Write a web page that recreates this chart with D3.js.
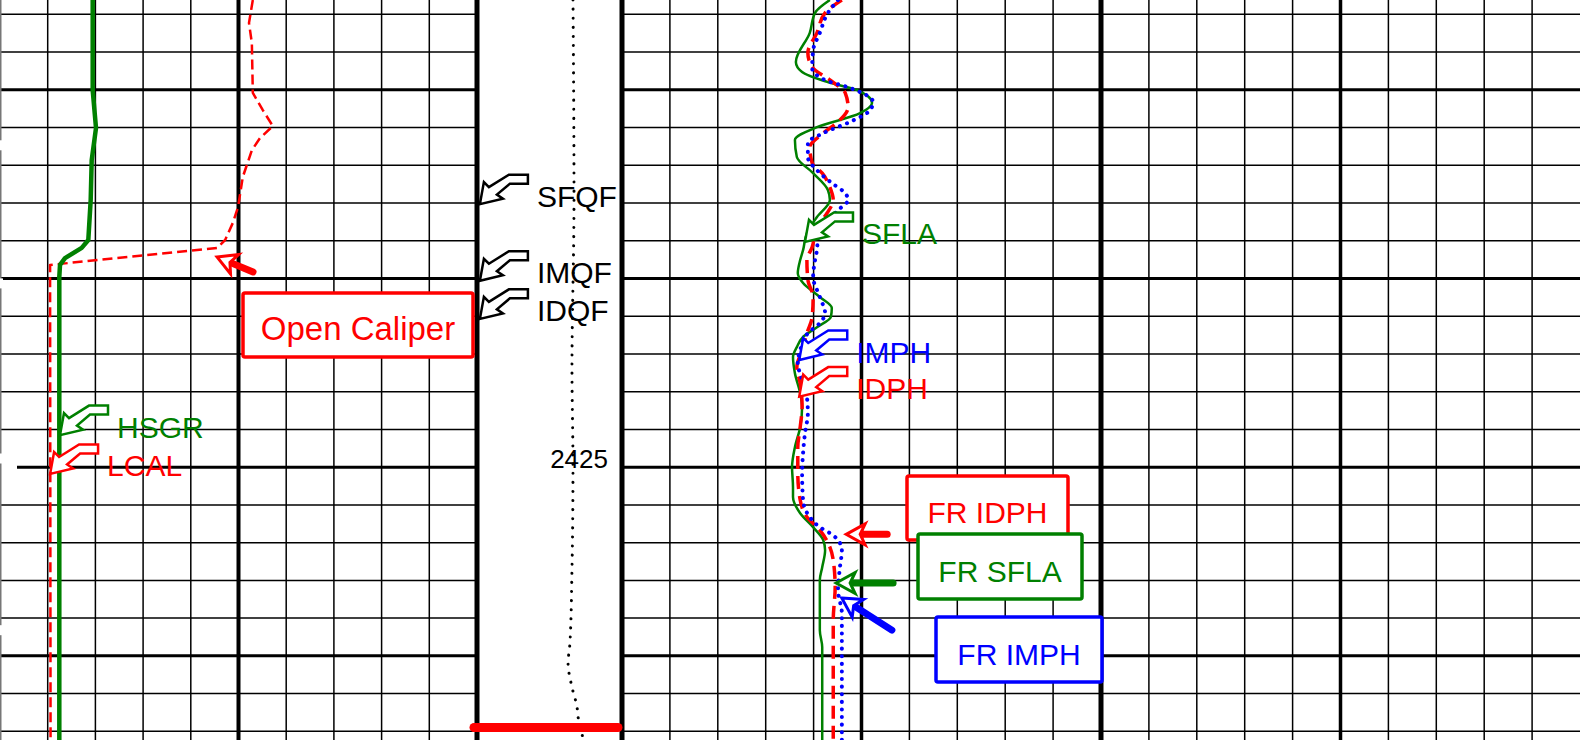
<!DOCTYPE html>
<html><head><meta charset="utf-8">
<script src="https://cdn.jsdelivr.net/npm/d3@7"></script>
<style>html,body{margin:0;padding:0;background:#fff;overflow:hidden}svg{display:block}</style>
</head><body><svg id="c" width="1580" height="740"></svg>
<script>
// ---------- data ----------
const depthTop = 2412.62, depthBottom = 2432.23;
const depthLabels = [2425];

const hsgrDepth = [2412.62,2415.01,2416.01,2416.86,2417.92,2418.98,2419.19,2419.46,2419.64,2419.96,2432.23];
const hsgrValue = [29.15,29.15,30.19,28.84,28.52,27.77,25.69,20.44,18.87,18.65,18.65];

const lcalDepth = [2412.62,2413.23,2413.76,2415.08,2415.54,2415.96,2416.28,2416.60,2417.31,2418.11,2418.53,2418.98,2419.19,2419.64,2419.96,2432.23];
const lcalValue = [11.30,11.22,11.28,11.30,11.51,11.72,11.45,11.28,11.09,10.99,10.88,10.72,10.55,7.05,7.05,7.06];

const dtDepth = [2412.62,2417.92,2422.43,2425.00,2427.73,2429.66,2430.19,2430.83,2431.36,2431.62,2432.05,2432.23];
const dtValue = [6.62,6.69,6.55,6.62,6.55,6.41,6.28,6.55,6.90,6.97,7.24,7.30];

const sflaDepth = [2412.62,2412.96,2413.49,2414.26,2414.53,2414.79,2415.01,2415.35,2415.62,2415.99,2416.33,2416.78,2417.21,2417.66,2417.92,2418.37,2418.80,2419.25,2419.51,2419.86,2420.12,2420.49,2420.78,2421.02,2421.29,2421.55,2421.82,2422.08,2422.51,2423.04,2423.41,2423.94,2424.47,2425.00,2425.53,2425.79,2426.22,2426.59,2426.93,2427.20,2427.65,2427.99,2429.32,2429.77,2432.23];
const sflaValue = [4.34,4.03,3.92,3.63,3.76,4.28,4.91,5.22,4.97,4.07,3.61,3.65,3.99,4.30,4.34,4.07,3.86,3.78,3.72,3.67,3.78,4.13,4.38,4.36,4.07,3.78,3.65,3.57,3.61,3.72,3.76,3.72,3.61,3.55,3.57,3.57,3.72,3.99,4.20,4.24,4.18,4.13,4.13,4.18,4.18];

const idphDepth = [2412.62,2412.96,2413.49,2414.02,2414.40,2414.74,2415.08,2415.46,2415.85,2416.15,2416.52,2416.94,2417.21,2417.58,2417.92,2418.27,2418.64,2419.17,2419.51,2420.04,2420.49,2421.02,2421.45,2421.90,2422.35,2422.77,2423.41,2423.94,2424.47,2425.16,2425.87,2426.32,2426.67,2427.12,2427.46,2428.18,2429.05,2432.23];
const idphValue = [4.59,4.24,4.07,3.88,3.97,4.34,4.66,4.72,4.51,4.20,3.92,3.97,4.18,4.34,4.41,4.28,4.07,3.97,3.86,3.88,3.99,3.97,3.86,3.76,3.65,3.72,3.76,3.72,3.67,3.67,3.72,3.86,4.13,4.34,4.41,4.45,4.41,4.41];

const imphDepth = [2412.62,2412.96,2413.49,2413.95,2414.42,2414.74,2414.95,2415.32,2415.54,2415.85,2416.15,2416.41,2416.78,2417.13,2417.47,2417.74,2417.92,2418.19,2418.53,2418.98,2419.25,2419.51,2419.96,2420.49,2420.92,2421.18,2421.45,2421.90,2422.24,2422.69,2423.14,2423.57,2424.10,2424.63,2425.16,2425.87,2426.32,2426.59,2426.75,2426.93,2427.20,2427.65,2428.26,2428.87,2432.23];
const imphValue = [4.51,4.30,4.13,3.99,3.97,4.24,4.76,5.24,5.18,4.76,4.20,3.88,3.88,4.07,4.38,4.66,4.72,4.51,4.28,4.09,4.07,4.03,3.99,4.13,4.24,4.13,3.88,3.72,3.67,3.76,3.86,3.88,3.82,3.78,3.76,3.78,3.92,4.13,4.34,4.51,4.59,4.55,4.51,4.59,4.59];

const markerDepths = [2431.9];
const edgeTickDepths = [2416.47, 2420.13, 2424.77, 2429.32];

const calloutNames  = ["HSGR","LCAL","SFQF","IMQF","IDQF","SFLA","IMPH","IDPH"];
const calloutDepths = [2424.15,2425.18,2418.03,2420.06,2421.07,2419.03,2422.16,2423.13];
const calloutValues = [18.87,7.05,0.2,0.2,0.2,3.82,3.70,3.70];

const boxLabels   = ["Open Caliper","FR IDPH","FR SFLA","FR IMPH"];
const arrowDepths = [2419.43,2426.78,2428.07,2428.47];
const arrowValues = [10.55,4.68,4.47,4.59];

// ---------- scales ----------
const W = 1580, H = 740;
const y    = d3.scaleLinear().domain([depthTop, depthBottom]).range([0, H]);
const xGR  = d3.scaleLinear().domain([0, 150]).range([0, 477]);
const xCAL = d3.scaleLinear().domain([6, 16]).range([0, 477]);
const xDT  = d3.scaleLinear().domain([0, 10]).range([477, 622]);
const xRES = d3.scaleLinear().domain([0, 20]).range([622, 1580]);

const RED = "#ff0000", GREEN = "#008000", BLUE = "#0000ff";
const FONT = "'Liberation Sans', Arial, Helvetica, sans-serif";

const svg = d3.select("#c");
svg.append("rect").attr("width", W).attr("height", H).attr("fill", "#fff");

// ---------- grid ----------
const grid = svg.append("g");
const depths = d3.range(Math.ceil(depthTop), Math.floor(depthBottom) + 1);
depths.forEach(d => {
  const w = d % 5 === 0 ? 3 : 1.5;
  const yy = y(d);
  const x0 = depthLabels.includes(d) ? 17 : 0;
  grid.append("line").attr("x1", x0).attr("x2", xGR(150)).attr("y1", yy).attr("y2", yy)
    .attr("stroke", "#000").attr("stroke-width", w);
  grid.append("line").attr("x1", xRES(0)).attr("x2", W).attr("y1", yy).attr("y2", yy)
    .attr("stroke", "#000").attr("stroke-width", w);
});
d3.range(0, 151, 15).forEach(v => {
  const w = v === 150 ? 5 : v === 75 ? 4 : 1.5;
  const xx = v === 0 ? 0.75 : xGR(v);
  grid.append("line").attr("x1", xx).attr("x2", xx).attr("y1", 0).attr("y2", H)
    .attr("stroke", v === 0 ? "#777" : "#000").attr("stroke-width", w);
});
d3.range(0, 20, 1).forEach(v => {
  const w = (v === 0 || v === 10) ? 5 : (v === 5 || v === 15) ? 3.5 : 1.5;
  const xx = xRES(v);
  grid.append("line").attr("x1", xx).attr("x2", xx).attr("y1", 0).attr("y2", H)
    .attr("stroke", "#000").attr("stroke-width", w);
});
// small white notches on the left edge
edgeTickDepths.forEach(d => {
  grid.append("rect").attr("x", 0).attr("y", y(d) - 5).attr("width", 3).attr("height", 10).attr("fill", "#fff");
});

// ---------- curves ----------
const curves = svg.append("g").attr("fill", "none");
function zip(ds, vs) { return ds.map((d, i) => ({ d, v: vs[i] })); }
function drawCurve(ds, vs, xs, color, width, dash, curveType, cap) {
  const line = d3.line().x(p => xs(p.v)).y(p => y(p.d)).curve(curveType);
  curves.append("path").attr("d", line(zip(ds, vs)))
    .attr("stroke", color).attr("stroke-width", width)
    .attr("stroke-dasharray", dash).attr("stroke-linecap", cap || "butt")
    .attr("stroke-linejoin", "round");
}
drawCurve(lcalDepth, lcalValue, xCAL, RED, 2.5, "10,5", d3.curveLinear);
drawCurve(hsgrDepth, hsgrValue, xGR, GREEN, 4.5, null, d3.curveLinear);
drawCurve(dtDepth, dtValue, xDT, "#000", 3, "0.1,9", d3.curveMonotoneY, "round");
drawCurve(sflaDepth, sflaValue, xRES, GREEN, 2.5, null, d3.curveMonotoneY);
drawCurve(idphDepth, idphValue, xRES, RED, 3.5, "13,7", d3.curveMonotoneY);
drawCurve(imphDepth, imphValue, xRES, BLUE, 4, "0.1,7.5", d3.curveMonotoneY, "round");

// marker bar in depth track
markerDepths.forEach(d => {
  svg.append("line").attr("x1", xDT(0) - 3).attr("x2", xDT(10) - 4)
    .attr("y1", y(d)).attr("y2", y(d))
    .attr("stroke", RED).attr("stroke-width", 9).attr("stroke-linecap", "round");
});

// depth labels
depthLabels.forEach(d => {
  svg.append("text").attr("x", 608).attr("y", y(d) + 1).attr("text-anchor", "end")
    .attr("font-family", FONT).attr("font-size", 26).attr("fill", "#000").text(d);
});

// ---------- callouts ----------
const flag = [[0,0],[4,-22],[9,-17],[29,-29.5],[48,-29.5],[48,-20.5],[30,-20.5],[17,-9.5],[23,-5.5]];
const calloutScale  = [xGR, xCAL, xDT, xDT, xDT, xRES, xRES, xRES];
const calloutColors = [GREEN, RED, "#000", "#000", "#000", GREEN, BLUE, RED];
const cg = svg.append("g");
calloutNames.forEach((name, i) => {
  const tx = calloutScale[i](calloutValues[i]);
  const ty = y(calloutDepths[i]);
  cg.append("polygon")
    .attr("points", flag.map(p => [tx + p[0], ty + p[1]].join(",")).join(" "))
    .attr("fill", "#fff").attr("stroke", calloutColors[i]).attr("stroke-width", 2.5)
    .attr("stroke-linejoin", "miter");
  cg.append("text").attr("x", tx + 57).attr("y", ty + 2.5)
    .attr("font-family", FONT).attr("font-size", 30).attr("fill", calloutColors[i]).text(name);
});

// ---------- arrows ----------
const arrowScale  = [xCAL, xRES, xRES, xRES];
const arrowColors = [RED, RED, GREEN, BLUE];
const arrowTail   = [[36, 15], [41, 0], [57, 0], [50, 32]];
const ag = svg.append("g");
arrowDepths.forEach((d, i) => {
  const tx = arrowScale[i](arrowValues[i]), ty = y(d);
  const [dx, dy] = arrowTail[i];
  const L = Math.hypot(dx, dy), ux = dx / L, uy = dy / L, nx = -uy, ny = ux;
  const P = (a, b) => [tx + ux * a + nx * b, ty + uy * a + ny * b];
  const notch = P(14, 0);
  ag.append("line").attr("x1", notch[0]).attr("y1", notch[1]).attr("x2", tx + dx).attr("y2", ty + dy)
    .attr("stroke", arrowColors[i]).attr("stroke-width", 7).attr("stroke-linecap", "round");
  const head = [P(0, 0), P(19, -10.5), P(14, 0), P(19, 10.5)];
  ag.append("polygon").attr("points", head.map(p => p.join(",")).join(" "))
    .attr("fill", "#fff").attr("stroke", arrowColors[i]).attr("stroke-width", 3)
    .attr("stroke-linejoin", "miter");
});

// ---------- boxes ----------
const boxRects  = [[243, 293, 230, 64], [907, 476, 161, 64], [918, 534, 164, 65], [936, 617, 166, 65]];
const boxColors = [RED, RED, GREEN, BLUE];
const boxFont   = [33, 30, 30, 30];
const bg = svg.append("g");
boxLabels.forEach((label, i) => {
  const [bx, by, bw, bh] = boxRects[i];
  bg.append("rect").attr("x", bx).attr("y", by).attr("width", bw).attr("height", bh)
    .attr("rx", 2).attr("fill", "#fff").attr("stroke", boxColors[i]).attr("stroke-width", 3.5);
  bg.append("text").attr("x", bx + bw / 2).attr("y", by + bh / 2 + 15).attr("text-anchor", "middle")
    .attr("font-family", FONT).attr("font-size", boxFont[i]).attr("fill", boxColors[i]).text(label);
});
</script>
</body></html>
